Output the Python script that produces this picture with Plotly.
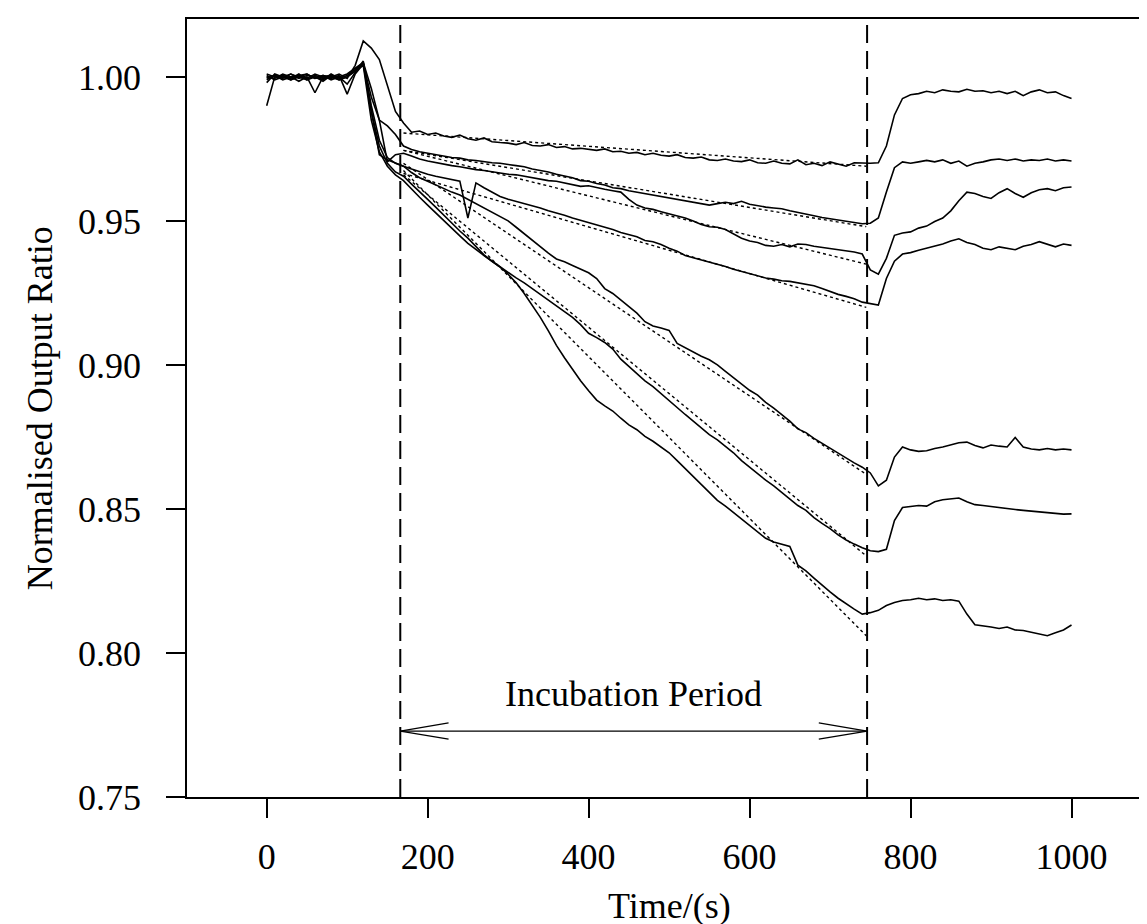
import plotly.graph_objects as go

# sampling grid (s) the curves were read on
time_s = list(range(0, 1001, 10))

# normalised output ratio, one list per sensor, rows of 10 = 0-90, 100-190, ... , 1000
ratio_1 = [
    0.9990, 1.0005, 0.9995, 1.0010, 1.0000, 0.9990, 1.0005, 0.9995, 1.0000, 1.0010,
    0.9995, 1.0040, 1.0125, 1.0100, 1.0060, 0.9970, 0.9880, 0.9840, 0.9808, 0.9812,
    0.9800, 0.9805, 0.9795, 0.9790, 0.9798, 0.9785, 0.9780, 0.9788, 0.9775, 0.9772,
    0.9770, 0.9765, 0.9772, 0.9762, 0.9760, 0.9765, 0.9755, 0.9758, 0.9750, 0.9752,
    0.9748, 0.9745, 0.9750, 0.9740, 0.9742, 0.9735, 0.9738, 0.9730, 0.9735, 0.9728,
    0.9725, 0.9730, 0.9720, 0.9718, 0.9722, 0.9712, 0.9710, 0.9715, 0.9708, 0.9706,
    0.9712, 0.9702, 0.9700, 0.9708, 0.9700, 0.9698, 0.9712, 0.9695, 0.9700, 0.9692,
    0.9705, 0.9698, 0.9690, 0.9702, 0.9700, 0.9700, 0.9702, 0.9760, 0.9868, 0.9925,
    0.9938, 0.9942, 0.9950, 0.9945, 0.9955, 0.9950, 0.9948, 0.9957, 0.9950, 0.9952,
    0.9945, 0.9950, 0.9942, 0.9950, 0.9935, 0.9948, 0.9955, 0.9945, 0.9948, 0.9935,
    0.9925,
]
ratio_2 = [
    0.9980, 1.0010, 1.0000, 0.9990, 1.0005, 1.0010, 0.9995, 1.0005, 0.9990, 1.0000,
    1.0010, 1.0030, 1.0050, 0.9960, 0.9850, 0.9830, 0.9800, 0.9760, 0.9748, 0.9740,
    0.9735, 0.9730, 0.9725, 0.9720, 0.9718, 0.9712, 0.9710, 0.9705, 0.9702, 0.9700,
    0.9697, 0.9692, 0.9688, 0.9680, 0.9675, 0.9670, 0.9662, 0.9655, 0.9650, 0.9640,
    0.9638, 0.9630, 0.9625, 0.9615, 0.9612, 0.9605, 0.9600, 0.9595, 0.9592, 0.9585,
    0.9582, 0.9575, 0.9570, 0.9565, 0.9560, 0.9555, 0.9560, 0.9565, 0.9560, 0.9568,
    0.9558, 0.9552, 0.9548, 0.9545, 0.9542, 0.9535, 0.9530, 0.9525, 0.9518, 0.9512,
    0.9508, 0.9502, 0.9498, 0.9495, 0.9490, 0.9492, 0.9510, 0.9600, 0.9685, 0.9705,
    0.9700, 0.9705, 0.9710, 0.9705, 0.9712, 0.9700, 0.9708, 0.9690, 0.9700, 0.9705,
    0.9712, 0.9715, 0.9710, 0.9715, 0.9708, 0.9712, 0.9710, 0.9715, 0.9708, 0.9712,
    0.9708,
]
ratio_3 = [
    1.0000, 0.9995, 1.0010, 1.0000, 0.9985, 1.0000, 0.9945, 1.0000, 1.0005, 0.9990,
    1.0000, 1.0020, 1.0045, 0.9930, 0.9850, 0.9705, 0.9730, 0.9735, 0.9725, 0.9715,
    0.9708, 0.9702, 0.9698, 0.9692, 0.9688, 0.9682, 0.9678, 0.9675, 0.9670, 0.9665,
    0.9662, 0.9660, 0.9655, 0.9650, 0.9645, 0.9640, 0.9638, 0.9632, 0.9628, 0.9620,
    0.9622, 0.9615, 0.9610, 0.9605, 0.9600, 0.9575, 0.9555, 0.9545, 0.9540, 0.9532,
    0.9525, 0.9518, 0.9510, 0.9500, 0.9488, 0.9480, 0.9478, 0.9470, 0.9455, 0.9440,
    0.9430, 0.9425, 0.9415, 0.9412, 0.9418, 0.9410, 0.9420, 0.9418, 0.9412, 0.9408,
    0.9405, 0.9402, 0.9398, 0.9392, 0.9385, 0.9330, 0.9315, 0.9370, 0.9450, 0.9458,
    0.9462, 0.9475, 0.9482, 0.9498, 0.9510, 0.9535, 0.9570, 0.9600, 0.9595, 0.9585,
    0.9578, 0.9598, 0.9612, 0.9595, 0.9582, 0.9598, 0.9608, 0.9612, 0.9605, 0.9615,
    0.9618,
]
ratio_4 = [
    0.9900, 1.0000, 1.0005, 0.9995, 1.0010, 0.9990, 1.0000, 0.9985, 1.0005, 1.0000,
    0.9975, 1.0015, 1.0055, 0.9880, 0.9730, 0.9712, 0.9700, 0.9690, 0.9680, 0.9670,
    0.9662, 0.9655, 0.9650, 0.9645, 0.9638, 0.9510, 0.9632, 0.9615, 0.9600, 0.9585,
    0.9575, 0.9568, 0.9560, 0.9552, 0.9545, 0.9535, 0.9528, 0.9520, 0.9510, 0.9502,
    0.9495, 0.9485, 0.9478, 0.9470, 0.9460, 0.9452, 0.9445, 0.9432, 0.9428, 0.9418,
    0.9405, 0.9395, 0.9380, 0.9372, 0.9365, 0.9358, 0.9350, 0.9342, 0.9332, 0.9325,
    0.9318, 0.9310, 0.9302, 0.9298, 0.9292, 0.9290, 0.9285, 0.9280, 0.9275, 0.9265,
    0.9255, 0.9245, 0.9238, 0.9230, 0.9218, 0.9212, 0.9208, 0.9300, 0.9360, 0.9385,
    0.9390, 0.9398, 0.9405, 0.9412, 0.9420, 0.9430, 0.9438, 0.9425, 0.9418, 0.9405,
    0.9400, 0.9410, 0.9405, 0.9400, 0.9412, 0.9418, 0.9428, 0.9418, 0.9410, 0.9420,
    0.9415,
]
ratio_5 = [
    1.0005, 0.9990, 1.0000, 1.0010, 0.9995, 1.0005, 1.0000, 0.9990, 1.0010, 0.9995,
    1.0005, 1.0025, 1.0050, 0.9900, 0.9780, 0.9720, 0.9700, 0.9690, 0.9668, 0.9650,
    0.9638, 0.9625, 0.9612, 0.9600, 0.9590, 0.9575, 0.9560, 0.9545, 0.9530, 0.9515,
    0.9500, 0.9478, 0.9455, 0.9432, 0.9410, 0.9388, 0.9368, 0.9358, 0.9345, 0.9332,
    0.9320, 0.9300, 0.9265, 0.9248, 0.9225, 0.9205, 0.9180, 0.9150, 0.9135, 0.9128,
    0.9120, 0.9075, 0.9060, 0.9045, 0.9030, 0.9018, 0.9000, 0.8978, 0.8955, 0.8932,
    0.8912, 0.8895, 0.8870, 0.8850, 0.8828, 0.8805, 0.8778, 0.8765, 0.8745, 0.8728,
    0.8710, 0.8692, 0.8678, 0.8660, 0.8645, 0.8625, 0.8580, 0.8600, 0.8680, 0.8715,
    0.8705, 0.8700, 0.8702, 0.8710, 0.8715, 0.8722, 0.8730, 0.8732, 0.8720, 0.8712,
    0.8722, 0.8718, 0.8715, 0.8748, 0.8715, 0.8708, 0.8705, 0.8710, 0.8705, 0.8708,
    0.8705,
]
ratio_6 = [
    0.9995, 1.0005, 0.9990, 1.0000, 1.0005, 0.9995, 1.0010, 1.0000, 0.9995, 1.0005,
    0.9940, 1.0010, 1.0045, 0.9880, 0.9760, 0.9700, 0.9670, 0.9655, 0.9628, 0.9600,
    0.9575, 0.9548, 0.9520, 0.9492, 0.9465, 0.9440, 0.9410, 0.9382, 0.9360, 0.9340,
    0.9322, 0.9302, 0.9285, 0.9265, 0.9248, 0.9228, 0.9208, 0.9188, 0.9165, 0.9140,
    0.9110, 0.9095, 0.9078, 0.9055, 0.9020, 0.8995, 0.8970, 0.8945, 0.8925, 0.8900,
    0.8878, 0.8850, 0.8828, 0.8805, 0.8780, 0.8758, 0.8740, 0.8718, 0.8695, 0.8668,
    0.8645, 0.8622, 0.8600, 0.8580, 0.8558, 0.8535, 0.8512, 0.8495, 0.8470, 0.8450,
    0.8432, 0.8410, 0.8392, 0.8378, 0.8365, 0.8355, 0.8352, 0.8360, 0.8460, 0.8505,
    0.8508, 0.8512, 0.8510, 0.8525, 0.8532, 0.8535, 0.8538, 0.8525, 0.8515, 0.8512,
    0.8508, 0.8505, 0.8500, 0.8498, 0.8495, 0.8492, 0.8490, 0.8488, 0.8485, 0.8482,
    0.8483,
]
ratio_7 = [
    1.0010, 1.0000, 1.0005, 0.9990, 1.0000, 1.0010, 0.9995, 1.0005, 1.0000, 0.9990,
    1.0000, 1.0020, 1.0040, 0.9850, 0.9740, 0.9690, 0.9660, 0.9640, 0.9610, 0.9582,
    0.9555, 0.9528, 0.9500, 0.9472, 0.9448, 0.9422, 0.9400, 0.9380, 0.9360, 0.9340,
    0.9315, 0.9285, 0.9248, 0.9208, 0.9165, 0.9118, 0.9068, 0.9025, 0.8985, 0.8945,
    0.8910, 0.8878, 0.8858, 0.8840, 0.8815, 0.8792, 0.8775, 0.8752, 0.8735, 0.8715,
    0.8695, 0.8668, 0.8640, 0.8612, 0.8585, 0.8555, 0.8530, 0.8510, 0.8488, 0.8465,
    0.8445, 0.8422, 0.8398, 0.8385, 0.8378, 0.8370, 0.8305, 0.8285, 0.8260, 0.8235,
    0.8212, 0.8190, 0.8170, 0.8152, 0.8135, 0.8140, 0.8148, 0.8165, 0.8175, 0.8182,
    0.8185, 0.8190, 0.8185, 0.8188, 0.8182, 0.8185, 0.8180, 0.8135, 0.8098, 0.8095,
    0.8090, 0.8085, 0.8090, 0.8080, 0.8078, 0.8072, 0.8065, 0.8060, 0.8070, 0.8080,
    0.8097,
]
curves = [ratio_1, ratio_2, ratio_3, ratio_4, ratio_5, ratio_6, ratio_7]

# linear fits over the incubation period (dotted): value at fit start, value at fit end
fit_time = [170, 745]
fit_start = [0.9805, 0.9745, 0.9745, 0.9665, 0.9700, 0.9660, 0.9675]
fit_end = [0.9690, 0.9480, 0.9350, 0.9200, 0.8620, 0.8337, 0.8060]

incubation_start = 166
incubation_end = 746
arrow_level = 0.7729

FONT = "Liberation Serif, Times New Roman, serif"
FS = 36

fig = go.Figure()
for vals in curves:
    fig.add_trace(go.Scatter(x=time_s, y=vals, mode="lines",
                             line=dict(color="black", width=1.6), hoverinfo="skip"))
for a, b in zip(fit_start, fit_end):
    fig.add_trace(go.Scatter(x=fit_time, y=[a, b], mode="lines",
                             line=dict(color="black", width=1.4, dash="dot"), hoverinfo="skip"))

# incubation period markers
for xv in (incubation_start, incubation_end):
    fig.add_shape(type="line", xref="x", yref="y", x0=xv, x1=xv, y0=0.75, y1=1.0185,
                  line=dict(color="black", width=2, dash="18px,8px"))
fig.add_shape(type="line", xref="x", yref="y", x0=incubation_start, x1=incubation_end,
              y0=arrow_level, y1=arrow_level, line=dict(color="black", width=1.3))
head_dx, head_dy = 60, 0.0028
fig.add_shape(type="path", xref="x", yref="y",
              path=f"M {incubation_start + head_dx},{arrow_level + head_dy} L {incubation_start},{arrow_level} "
                   f"L {incubation_start + head_dx},{arrow_level - head_dy}",
              line=dict(color="black", width=1.3))
fig.add_shape(type="path", xref="x", yref="y",
              path=f"M {incubation_end - head_dx},{arrow_level + head_dy} L {incubation_end},{arrow_level} "
                   f"L {incubation_end - head_dx},{arrow_level - head_dy}",
              line=dict(color="black", width=1.3))
fig.add_annotation(x=(incubation_start + incubation_end) / 2, y=0.7858, xref="x", yref="y",
                   text="Incubation Period", showarrow=False,
                   font=dict(family=FONT, size=FS, color="black"))

# axis titles
fig.add_annotation(x=0.5, y=-0.140, xref="paper", yref="paper", yanchor="middle",
                   text="Time/(s)", showarrow=False, font=dict(family=FONT, size=FS, color="black"))
fig.add_annotation(x=-0.152, y=0.5, xref="paper", yref="paper", textangle=-90,
                   xanchor="center", yanchor="middle",
                   text="Normalised Output Ratio", showarrow=False,
                   font=dict(family=FONT, size=FS, color="black"))

axis_common = dict(showline=True, linecolor="black", linewidth=1.5, mirror=True,
                   ticks="outside", ticklen=19, tickwidth=1.5, tickcolor="black",
                   showgrid=False, zeroline=False,
                   tickfont=dict(family=FONT, size=FS, color="black"))
fig.update_xaxes(range=[-99, 1100], tickvals=[0, 200, 400, 600, 800, 1000],
                 ticklabelstandoff=8, **axis_common)
fig.update_yaxes(range=[0.75, 1.0201], tickvals=[0.75, 0.80, 0.85, 0.90, 0.95, 1.00],
                 tickformat=".2f", ticklabelstandoff=18, **axis_common)

fig.update_layout(
    width=1147, height=924,
    margin=dict(l=179, r=1, t=11, b=135),
    paper_bgcolor="white", plot_bgcolor="white",
    showlegend=False,
    font=dict(family=FONT, color="black"),
)

fig.write_html("out.html")
